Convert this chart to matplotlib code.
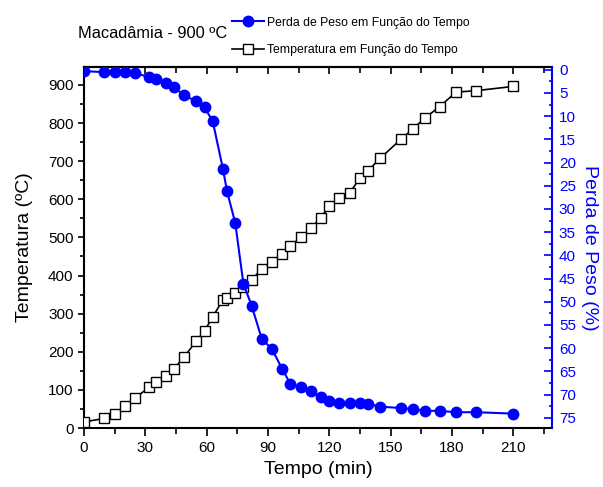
import matplotlib
matplotlib.use("Agg")
import matplotlib.pyplot as plt
from matplotlib.ticker import MultipleLocator
from matplotlib.lines import Line2D

plt.rcParams['font.family'] = ['Liberation Sans', 'DejaVu Sans']

# Data
tempo = [0, 10, 15, 20, 25, 32, 35, 40, 44, 49, 55, 59, 63, 68, 70, 74, 78, 82, 87,
         92, 97, 101, 106, 111, 116, 120, 125, 130, 135, 139, 145, 155, 161, 167,
         174, 182, 192, 210]
temperatura = [16, 25, 37, 58, 78, 108, 120, 137, 155, 187, 228, 255, 292, 336, 340,
               354, 370, 388, 418, 436, 456, 477, 500, 524, 552, 582, 603, 617, 655,
               675, 708, 757, 785, 814, 843, 881, 885, 896]
perda = [0.3, 0.5, 0.4, 0.5, 0.7, 1.6, 2.0, 2.9, 3.8, 5.5, 6.8, 8.1, 11.1, 21.4, 26.2,
         33.0, 46.1, 50.8, 58.0, 60.2, 64.5, 67.7, 68.4, 69.2, 70.6, 71.3, 71.8, 71.8,
         71.8, 72.0, 72.6, 72.9, 73.1, 73.5, 73.5, 73.8, 73.8, 74.1]

titulo = "Macadâmia - 900 ºC"
label_perda = "Perda de Peso em Função do Tempo"
label_temp = "Temperatura em Função do Tempo"

BLUE = (0, 0, 1)

fig = plt.figure(figsize=(6.03, 4.87), dpi=100)
ax = fig.add_axes([84/603, 1 - 428/487, (552-84)/603, (428-67)/487])
ax2 = ax.twinx()

ax.plot(tempo, temperatura, color='black', lw=1.2, marker='s', ms=6.8,
        mfc='white', mec='black', mew=1.0, zorder=3)
ax2.plot(tempo, perda, color=BLUE, lw=1.5, marker='o', ms=7.5,
         mfc=BLUE, mec=BLUE, zorder=3)

ax.set_xlim(0, 229)
ax.set_ylim(0, 947)
ax2.set_ylim(77.2, -0.6)

ax.xaxis.set_major_locator(MultipleLocator(30))
ax.xaxis.set_minor_locator(MultipleLocator(15))
ax.yaxis.set_major_locator(MultipleLocator(100))
ax.yaxis.set_minor_locator(MultipleLocator(50))
ax2.yaxis.set_major_locator(MultipleLocator(5))
ax2.yaxis.set_minor_locator(MultipleLocator(2.5))

ax.tick_params(axis='x', which='major', direction='out', length=6, width=1.2,
               labelsize=11, pad=3, top=False)
ax.tick_params(axis='x', which='minor', direction='out', length=4, width=1.2, top=False)
ax.tick_params(axis='y', which='major', direction='out', length=4.5, width=1.2,
               labelsize=11, pad=3, right=False)
ax.tick_params(axis='y', which='minor', direction='out', length=3, width=1.2, right=False)

secx = ax.secondary_xaxis('top')
secx.xaxis.set_major_locator(MultipleLocator(30))
secx.xaxis.set_minor_locator(MultipleLocator(15))
secx.tick_params(which='major', direction='in', length=5, width=1.2, labeltop=False)
secx.tick_params(which='minor', direction='in', length=4, width=1.2)
secx.spines['top'].set_linewidth(1.5)

ax2.tick_params(axis='y', which='major', direction='in', length=5.5, width=1.2,
                colors=BLUE, labelsize=11, pad=5)
ax2.tick_params(axis='y', which='minor', direction='in', length=2.5, width=1.2,
                colors=BLUE)

for s in ['left', 'bottom', 'top']:
    ax.spines[s].set_linewidth(1.5)
ax.spines['right'].set_visible(False)
for s in ['left', 'bottom', 'top']:
    ax2.spines[s].set_visible(False)
ax2.spines['right'].set_color(BLUE)
ax2.spines['right'].set_linewidth(1.5)

ax.set_xlabel("Tempo (min)", fontsize=14, labelpad=5)
ax.set_ylabel("Temperatura (ºC)", fontsize=14, labelpad=11)
ax2.set_ylabel("Perda de Peso (%)", fontsize=14, color=BLUE, rotation=270, labelpad=16)

fig.text(78/603, 1 - 33/487, titulo, fontsize=11.8, ha='left', va='center')

h1 = Line2D([], [], color=BLUE, lw=1.5, marker='o', ms=7.5, mfc=BLUE, mec=BLUE)
h2 = Line2D([], [], color='black', lw=1.2, marker='s', ms=6.8, mfc='white',
            mec='black', mew=1.0)
fig.legend([h1, h2], [label_perda, label_temp], loc='center left',
           bbox_to_anchor=(232/603, 1 - 36.5/487), frameon=False, fontsize=8.8,
           handlelength=2.6, handletextpad=0.25, labelspacing=1.3,
           borderpad=0, borderaxespad=0)

fig.savefig("out.png", dpi=100)
